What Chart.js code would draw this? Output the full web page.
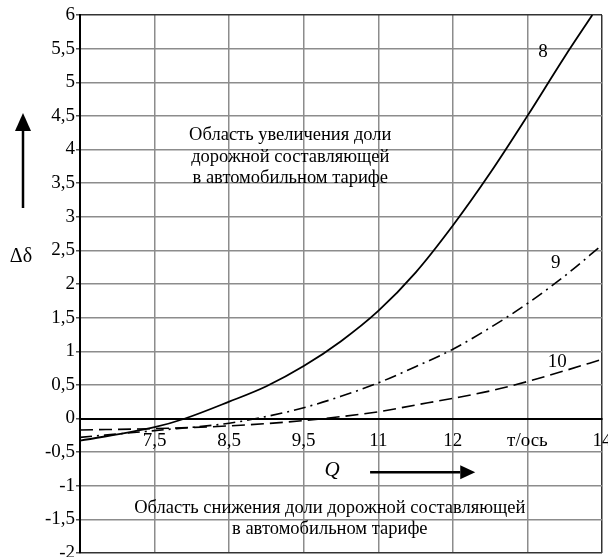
<!DOCTYPE html>
<html>
<head>
<meta charset="utf-8">
<script src="https://cdn.jsdelivr.net/npm/chart.js@4"></script>
<style>
  html, body { margin: 0; padding: 0; background: #fff; }
  #wrap { width: 608px; height: 557px; position: relative; }
</style>
</head>
<body>
<div id="wrap"><canvas id="myChart"></canvas></div>
<script>
// x axis is drawn in grid steps, the labels are not evenly spaced in Q
var xTickLabels = ['', '7,5', '8,5', '9,5', '11', '12', 'т/ось', '14'];

var curve8X = [0, 1, 1.41, 2, 2.5, 3, 3.5, 4, 4.5, 5, 5.5, 6, 6.5, 6.87];
var curve8Y = [-0.33, -0.13, 0, 0.25, 0.48, 0.78, 1.15, 1.6, 2.17, 2.87, 3.65, 4.5, 5.38, 6.0];

var curve9X = [0, 1, 2, 2.5, 3, 3.5, 4, 4.5, 5, 5.5, 6, 6.5, 7];
var curve9Y = [-0.28, -0.18, -0.07, 0.03, 0.16, 0.33, 0.53, 0.77, 1.03, 1.35, 1.71, 2.12, 2.58];

var curve10X = [0, 1, 2, 3, 4, 4.5, 5, 5.5, 6, 6.5, 7];
var curve10Y = [-0.17, -0.15, -0.11, -0.03, 0.1, 0.2, 0.3, 0.41, 0.55, 0.71, 0.88];

var serif = "'Liberation Serif', 'Times New Roman', serif";

function toPoints(xs, ys) {
    var pts = [];
    for (var i = 0; i < xs.length; i++) {
        pts.push({x: xs[i], y: ys[i]});
    }
    return pts;
}

function comma(v) {
    return String(v).replace('.', ',');
}

function arrow(ctx, x1, y1, x2, y2, head, half) {
    var ang = Math.atan2(y2 - y1, x2 - x1);
    var bx = x2 - head * Math.cos(ang), by = y2 - head * Math.sin(ang);
    ctx.beginPath();
    ctx.moveTo(x1, y1);
    ctx.lineTo(bx, by);
    ctx.stroke();
    ctx.beginPath();
    ctx.moveTo(x2, y2);
    ctx.lineTo(bx - half * Math.sin(ang), by + half * Math.cos(ang));
    ctx.lineTo(bx + half * Math.sin(ang), by - half * Math.cos(ang));
    ctx.closePath();
    ctx.fill();
}

// texts and arrows of the figure
var notes = {
    id: 'notes',
    afterDraw: function(chart) {
        var ctx = chart.ctx;
        var xs = chart.scales.x, ys = chart.scales.y;
        function px(v) { return xs.getPixelForValue(v); }
        function py(v) { return ys.getPixelForValue(v); }

        ctx.save();
        ctx.fillStyle = '#000';
        ctx.strokeStyle = '#000';
        ctx.textAlign = 'center';
        ctx.textBaseline = 'middle';
        ctx.font = '18.5px ' + serif;

        ctx.fillText('Область увеличения доли', px(2.82), py(4.22));
        ctx.fillText('дорожной составляющей', px(2.82), py(3.89));
        ctx.fillText('в автомобильном тарифе', px(2.82), py(3.58));

        ctx.fillText('Область снижения доли дорожной составляющей', px(3.35), py(-1.33));
        ctx.fillText('в автомобильном тарифе', px(3.35), py(-1.64));

        ctx.font = '19px ' + serif;
        ctx.fillText('8', px(6.21), py(5.45));
        ctx.fillText('9', px(6.38), py(2.31));
        ctx.fillText('10', px(6.40), py(0.84));

        ctx.font = 'italic 21px ' + serif;
        ctx.fillText('Q', px(3.38), py(-0.77));
        ctx.lineWidth = 2.5;
        arrow(ctx, px(3.89), py(-0.8), px(5.30), py(-0.8), 15, 7);

        ctx.font = '20px ' + serif;
        ctx.fillText('Δδ', 21, 257);
        arrow(ctx, 23, 208, 23, 113, 18, 8);
        ctx.restore();
    }
};

var ctx = document.getElementById('myChart').getContext('2d');
var myChart = new Chart(ctx, {
    type: 'line',
    data: {
        datasets: [{
            label: '8',
            data: toPoints(curve8X, curve8Y),
            borderColor: '#000',
            borderWidth: 1.8,
            pointRadius: 0,
            cubicInterpolationMode: 'monotone'
        }, {
            label: '9',
            data: toPoints(curve9X, curve9Y),
            borderColor: '#000',
            borderWidth: 1.6,
            borderDash: [12, 5, 2, 5],
            pointRadius: 0,
            cubicInterpolationMode: 'monotone'
        }, {
            label: '10',
            data: toPoints(curve10X, curve10Y),
            borderColor: '#000',
            borderWidth: 1.6,
            borderDash: [13, 6],
            pointRadius: 0,
            cubicInterpolationMode: 'monotone'
        }]
    },
    options: {
        responsive: true,
        maintainAspectRatio: false,
        animation: false,
        layout: { padding: { left: 0, top: 15, right: 6, bottom: 4 } },
        plugins: {
            legend: { display: false },
            tooltip: { enabled: false }
        },
        scales: {
            x: {
                type: 'linear',
                position: { y: 0 },
                min: 0,
                max: 7,
                afterFit: function(s) { s.paddingLeft = 0; s.paddingRight = 0; },
                ticks: {
                    stepSize: 1,
                    padding: 11,
                    color: '#000',
                    font: { family: serif, size: 19 },
                    maxRotation: 0,
                    callback: function(v) { return xTickLabels[v]; }
                },
                grid: {
                    drawTicks: false,
                    lineWidth: 1.5,
                    color: function(c) { return c.tick && c.tick.value === 7 ? '#333' : '#8c8c8c'; }
                },
                border: { color: '#000', width: 2 }
            },
            y: {
                min: -2,
                max: 6,
                afterFit: function(s) { s.width = 80; s.paddingTop = 0; s.paddingBottom = 0; },
                ticks: {
                    stepSize: 0.5,
                    padding: 1,
                    color: '#000',
                    font: { family: serif, size: 19 },
                    callback: function(v) { return comma(v); }
                },
                grid: {
                    tickLength: 4,
                    tickColor: '#555',
                    lineWidth: 1.5,
                    color: function(c) {
                        if (c.tick && (c.tick.value === 6 || c.tick.value === -2)) return '#333';
                        return '#8c8c8c';
                    }
                },
                border: { color: '#000', width: 2 }
            }
        }
    },
    plugins: [notes]
});
</script>
</body>
</html>
